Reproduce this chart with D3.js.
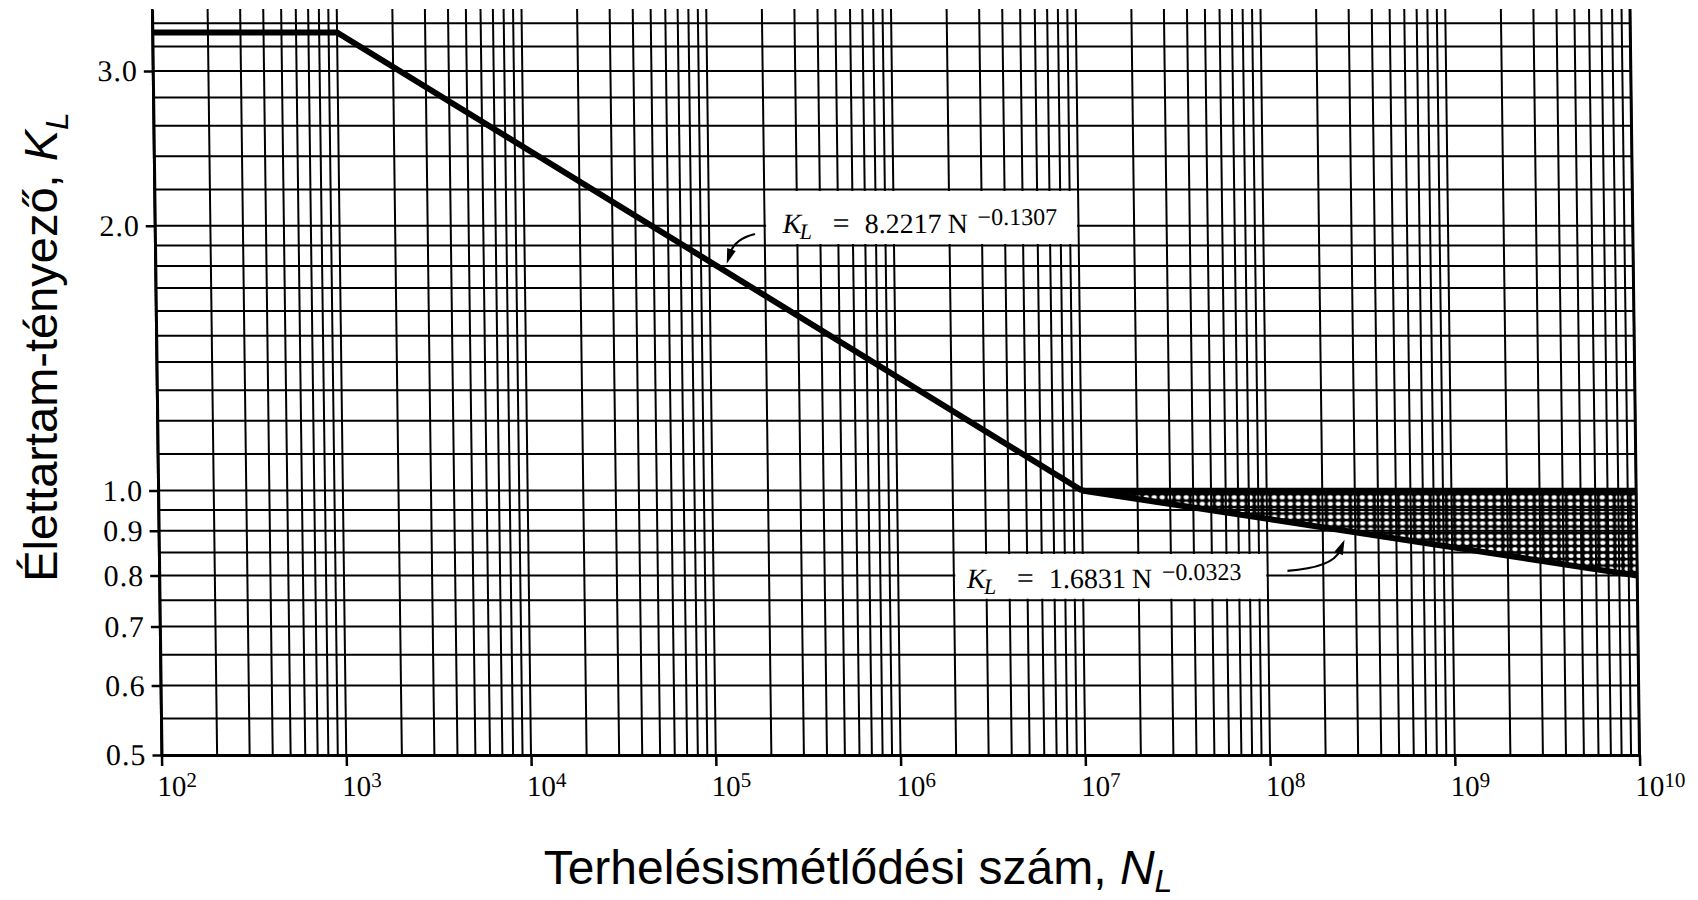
<!DOCTYPE html>
<html><head><meta charset="utf-8">
<script src="https://cdn.jsdelivr.net/npm/d3@7"></script>
<style>body{margin:0;background:#fff}svg{display:block}</style>
</head><body>
<svg id="c" width="1698" height="900"></svg>
<script>
// ---------- data ----------
const xTickExponents = [2, 3, 4, 5, 6, 7, 8, 9, 10];
const yTickValues = [0.5, 0.6, 0.7, 0.8, 0.9, 1.0, 2.0, 3.0];
const yTickLabels = ["0.5", "0.6", "0.7", "0.8", "0.9", "1.0", "2.0", "3.0"];
// main life-factor curve (N, K)
const curveN = [1e2, 1e3, 1e7];
const curveK = [3.32, 3.32, 1.0];
// scatter band beyond 1e7
const bandN = [1e7, 1e10];
const bandUpperK = [1.0, 1.0];
const bandLowerK = [1.0, 0.80];
// equation annotations
const eqCoef = ["8.2217", "1.6831"];
const eqExp = ["\u22120.1307", "\u22120.0323"];
const eqBoxN = [[2e5, 1e7], [2e6, 1e8]];
const eqBoxK = [[1.9, 2.2], [0.75, 0.85]];
// arrows: tail, control, tip  (N, K)
const arrowN = [[1.77e5, 1.38e5, 1.24e5], [1.28e8, 2.25e8, 2.62e8]];
const arrowK = [[1.958, 1.933, 1.811], [0.810, 0.817, 0.879]];
const xTitle = "Terhelésismétlődési szám, ";
const yTitle = "Élettartam-tényező, ";

// ---------- layout ----------
const L = {left: 152, right: 1630, top: 9, bottom: 755, skew: 9.5 / 746};
const eqPad = [18, 13];

const svg = d3.select("#c");
const x = d3.scaleLog().domain([1e2, 1e10]).range([L.left, L.right]);
const y = d3.scaleLog().domain([0.5, 3.53]).range([L.bottom, L.top]);

const defs = svg.append("defs");
const pat = defs.append("pattern").attr("id", "dots").attr("patternUnits", "userSpaceOnUse")
  .attr("width", 8).attr("height", 6.5);
pat.append("rect").attr("width", 8).attr("height", 6.5).attr("fill", "#000");
pat.append("ellipse").attr("cx", 4).attr("cy", 3.25).attr("rx", 2.6).attr("ry", 2.2).attr("fill", "#fff");

const g = svg.append("g")
  .attr("transform", `matrix(1,0,${L.skew},1,${-L.skew * L.top},0)`);

// band pattern
const band = bandN.map((n, i) => ({n, hi: bandUpperK[i], lo: bandLowerK[i]}));
g.append("path").datum(band)
  .attr("d", d3.area().x(d => x(d.n)).y0(d => y(d.lo)).y1(d => y(d.hi)))
  .attr("fill", "url(#dots)");

// grid
const gridN = [];
for (let e = 2; e < 10; e++) for (let m = 1; m < 10; m++) gridN.push(m * Math.pow(10, e));
gridN.push(1e10);
const gridK = [];
for (let i = 0; i <= 10; i++) gridK.push(+(0.5 + i * 0.05).toFixed(2));
for (let i = 1; i <= 10; i++) gridK.push(+(1 + i * 0.1).toFixed(2));
for (let i = 1; i <= 7; i++) gridK.push(+(2 + i * 0.2).toFixed(2));

g.append("g").selectAll("line").data(gridN).join("line")
  .attr("x1", d => x(d)).attr("x2", d => x(d))
  .attr("y1", L.top).attr("y2", L.bottom)
  .attr("stroke", "#000").attr("stroke-width", 2);
g.append("g").selectAll("line").data(gridK).join("line")
  .attr("x1", L.left).attr("x2", L.right)
  .attr("y1", d => y(d)).attr("y2", d => y(d))
  .attr("stroke", "#000").attr("stroke-width", 2);

// annotation boxes (white)
g.append("g").selectAll("rect").data(eqCoef).join("rect")
  .attr("x", (d, i) => x(eqBoxN[i][0]) + 1.5)
  .attr("width", (d, i) => x(eqBoxN[i][1]) - x(eqBoxN[i][0]) - 3)
  .attr("y", (d, i) => y(eqBoxK[i][1]) + 1.5)
  .attr("height", (d, i) => y(eqBoxK[i][0]) - y(eqBoxK[i][1]) - 3)
  .attr("fill", "#fff");

// axes
const xAxis = d3.axisBottom(x).tickValues(xTickExponents.map(e => Math.pow(10, e)))
  .tickSize(11).tickSizeOuter(0).tickFormat(() => "");
const gx = g.append("g").attr("transform", `translate(0,${L.bottom})`).call(xAxis);
gx.select(".domain").attr("stroke", "#000").attr("stroke-width", 3);
gx.selectAll(".tick line").attr("stroke", "#000").attr("stroke-width", 2.5);
gx.selectAll(".tick text").each(function(d, i) {
  const t = d3.select(this).attr("y", 41).attr("dy", 0).attr("x", -5)
    .attr("text-anchor", "start").attr("fill", "#000")
    .style("font-family", "'Liberation Serif', serif").style("font-size", "29px");
  t.text(null);
  t.append("tspan").text("10");
  t.append("tspan").attr("dy", -9).style("font-size", "21px").text(String(xTickExponents[i]));
});

const yAxis = d3.axisLeft(y).tickValues(yTickValues).tickFormat((d, i) => yTickLabels[i])
  .tickSize(9).tickPadding(6).tickSizeOuter(0);
const gy = g.append("g").attr("transform", `translate(${L.left},0)`).call(yAxis);
gy.select(".domain").attr("stroke", "#000").attr("stroke-width", 3);
gy.selectAll(".tick line").attr("stroke", "#000").attr("stroke-width", 2.5);
gy.selectAll(".tick text").attr("fill", "#000")
  .style("font-family", "'Liberation Serif', serif").style("font-size", "30px")
  .style("letter-spacing", "1px");

// right border
g.append("line").attr("x1", x(1e10)).attr("x2", x(1e10)).attr("y1", L.top).attr("y2", L.bottom)
  .attr("stroke", "#000").attr("stroke-width", 3);

// curves
const line = d3.line().x(d => x(d.n)).y(d => y(d.k));
g.append("path").datum(curveN.map((n, i) => ({n, k: curveK[i]})))
  .attr("d", line).attr("fill", "none").attr("stroke", "#000").attr("stroke-width", 6)
  .attr("stroke-linejoin", "miter");
g.append("path").datum(bandN.map((n, i) => ({n, k: bandUpperK[i]})))
  .attr("d", line).attr("fill", "none").attr("stroke", "#000").attr("stroke-width", 5.5);
g.append("path").datum(bandN.map((n, i) => ({n, k: bandLowerK[i]})))
  .attr("d", line).attr("fill", "none").attr("stroke", "#000").attr("stroke-width", 6);

// arrows
arrowN.forEach((ns, i) => {
  const p = ns.map((n, j) => [x(n), y(arrowK[i][j])]);
  const [t, c, h] = p;
  const dx = h[0] - c[0], dy = h[1] - c[1], len = Math.hypot(dx, dy);
  const ux = dx / len, uy = dy / len, hl = 15, hw = 4.5;
  const bx = h[0] - ux * hl, by = h[1] - uy * hl;
  g.append("path").attr("d", `M${t[0]},${t[1]}Q${c[0]},${c[1]} ${bx + ux * 3},${by + uy * 3}`)
    .attr("fill", "none").attr("stroke", "#000").attr("stroke-width", 2.2);
  g.append("path").attr("d", `M${h[0]},${h[1]}L${bx - uy * hw},${by + ux * hw}L${bx + uy * hw},${by - ux * hw}Z`)
    .attr("fill", "#000");
});

// equation texts
eqCoef.forEach((coef, i) => {
  const tx = x(eqBoxN[i][0]) + eqPad[i];
  const ty = y(eqBoxK[i][0]) - 12;
  const t = g.append("text").attr("x", tx).attr("y", ty)
    .style("font-family", "'Liberation Serif', serif").style("font-size", "28px").attr("fill", "#000");
  t.append("tspan").attr("x", tx).style("font-style", "italic").text("K");
  t.append("tspan").attr("x", tx + 17).attr("dy", 6).style("font-style", "italic").style("font-size", "22px").text("L");
  t.append("tspan").attr("x", tx + 50).attr("dy", -6).style("font-size", "30px").text("=");
  t.append("tspan").attr("x", tx + 82).text(coef);
  t.append("tspan").attr("x", tx + 165).text("N");
  t.append("tspan").attr("x", tx + 195).attr("dy", -8).style("font-size", "24px").text(eqExp[i]);
});

// axis titles
const xt = svg.append("text").attr("x", 858).attr("y", 884).attr("text-anchor", "middle")
  .style("font-family", "'Liberation Sans', Arial, sans-serif").style("font-size", "48px").attr("fill", "#000");
xt.append("tspan").text(xTitle);
xt.append("tspan").style("font-style", "italic").text("N");
xt.append("tspan").attr("dy", 8).style("font-style", "italic").style("font-size", "32px").text("L");

const yt = svg.append("text").attr("transform", "translate(57,347) rotate(-90)").attr("text-anchor", "middle")
  .style("font-family", "'Liberation Sans', Arial, sans-serif").style("font-size", "47px").attr("fill", "#000");
yt.append("tspan").text(yTitle);
yt.append("tspan").style("font-style", "italic").text("K");
yt.append("tspan").attr("dy", 11).style("font-style", "italic").style("font-size", "32px").text("L");
</script>
</body></html>
